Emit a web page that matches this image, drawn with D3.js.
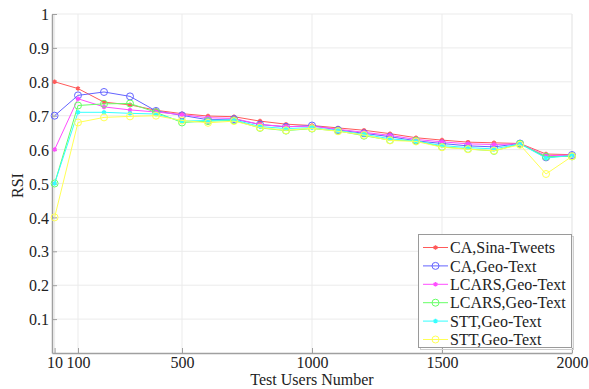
<!DOCTYPE html>
<html>
<head>
  <meta charset="utf-8">
  <script src="https://cdnjs.cloudflare.com/ajax/libs/d3/7.8.5/d3.min.js"></script>
  <style>
    body { margin: 0; background: #fff; }
    text { font-family: "Liberation Serif", "Times New Roman", serif; fill: #222; }
    .grid line { stroke: #ebebeb; stroke-width: 1px; }
    .series { fill: none; stroke-width: 1px; }
  </style>
</head>
<body>
  <svg id="chart" width="589" height="389"></svg>
  <script>
    // test users number
    var users = [10, 100, 200, 300, 400, 500, 600, 700, 800, 900, 1000,
                 1100, 1200, 1300, 1400, 1500, 1600, 1700, 1800, 1900, 2000];

    var caSina    = [0.80, 0.78, 0.74, 0.732, 0.716, 0.706, 0.699, 0.697, 0.684, 0.675, 0.671, 0.664, 0.657, 0.647, 0.635, 0.628, 0.622, 0.620, 0.618, 0.587, 0.585];
    var caGeo     = [0.70, 0.76, 0.77, 0.757, 0.714, 0.701, 0.688, 0.690, 0.674, 0.667, 0.671, 0.658, 0.648, 0.638, 0.626, 0.618, 0.611, 0.608, 0.618, 0.577, 0.584];
    var lcarsMag  = [0.60, 0.75, 0.726, 0.717, 0.711, 0.703, 0.694, 0.692, 0.674, 0.668, 0.669, 0.660, 0.651, 0.642, 0.630, 0.623, 0.617, 0.615, 0.617, 0.582, 0.584];
    var lcarsGrn  = [0.50, 0.73, 0.735, 0.736, 0.710, 0.680, 0.684, 0.686, 0.664, 0.656, 0.662, 0.655, 0.641, 0.628, 0.626, 0.608, 0.602, 0.596, 0.617, 0.579, 0.580];
    var sttCyan   = [0.50, 0.71, 0.71, 0.707, 0.705, 0.684, 0.686, 0.688, 0.668, 0.662, 0.665, 0.656, 0.645, 0.632, 0.625, 0.612, 0.606, 0.602, 0.617, 0.575, 0.583];
    var sttYellow = [0.40, 0.68, 0.695, 0.698, 0.700, 0.686, 0.679, 0.684, 0.665, 0.657, 0.663, 0.654, 0.643, 0.627, 0.624, 0.607, 0.601, 0.597, 0.614, 0.528, 0.580];

    var seriesNames  = ["CA,Sina-Tweets", "CA,Geo-Text", "LCARS,Geo-Text", "LCARS,Geo-Text", "STT,Geo-Text", "STT,Geo-Text"];
    var seriesValues = [caSina, caGeo, lcarsMag, lcarsGrn, sttCyan, sttYellow];
    var seriesColors = ["#ff5a5a", "#6464ff", "#ff4dff", "#66ff66", "#33ffff", "#ffff55"];
    var seriesMarks  = ["star", "circle", "star", "circle", "star", "circle"];

    var xTicks = [10, 100, 500, 1000, 1500, 2000];
    var yTicks = [0.1, 0.2, 0.3, 0.4, 0.5, 0.6, 0.7, 0.8, 0.9, 1];

    var svg = d3.select("#chart");
    var x = d3.scaleLinear().domain([0, 2000]).range([52, 572]);
    var y = d3.scaleLinear().domain([0, 1]).range([353, 14]);

    // grid
    var grid = svg.append("g").attr("class", "grid");
    grid.selectAll("line.gx").data(xTicks).enter().append("line")
      .attr("x1", d => x(d)).attr("x2", d => x(d))
      .attr("y1", y(0)).attr("y2", y(1));
    grid.selectAll("line.gy").data(yTicks).enter().append("line")
      .attr("x1", x(0)).attr("x2", x(2000))
      .attr("y1", d => y(d)).attr("y2", d => y(d));
    grid.append("line").attr("x1", x(2000)).attr("x2", x(2000)).attr("y1", y(0)).attr("y2", y(1));

    // axes (ticks inward)
    var xAxis = svg.append("g").attr("transform", "translate(0," + y(0) + ")")
      .call(d3.axisBottom(x).tickValues(xTicks).tickSizeInner(-5).tickSizeOuter(0).tickPadding(4).tickFormat(d3.format("d")));
    var yAxis = svg.append("g").attr("transform", "translate(" + x(0) + ",0)")
      .call(d3.axisLeft(y).tickValues(yTicks).tickSizeInner(-5).tickSizeOuter(0).tickPadding(3).tickFormat(d => d === 1 ? "1" : d3.format(".1f")(d)));
    [xAxis, yAxis].forEach(function (a) {
      a.select(".domain").attr("stroke", "#a0a0a0").attr("stroke-width", 1.5);
      a.selectAll(".tick line").attr("stroke", "#a0a0a0");
      a.selectAll("text").style("font-size", "16px").attr("fill", "#222");
    });
    yAxis.selectAll("text").attr("dy", "0.35em");

    svg.append("text").attr("x", x(1000)).attr("y", 385)
      .attr("text-anchor", "middle").style("font-size", "16px").text("Test Users Number");
    svg.append("text").attr("transform", "translate(23," + (y(0.5) + 2) + ") rotate(-90)")
      .attr("text-anchor", "middle").style("font-size", "16px").text("RSI");

    var line = d3.line().x((d, i) => x(users[i])).y(d => y(d));

    function drawMark(g, type, cx, cy, color) {
      if (type === "circle") {
        g.append("circle").attr("cx", cx).attr("cy", cy).attr("r", 3.5)
          .attr("fill", "none").attr("stroke", color).attr("stroke-width", 1);
      } else {
        g.append("path").attr("transform", "translate(" + cx + "," + cy + ")")
          .attr("d", d3.symbol(d3.symbolAsterisk, 14)())
          .attr("fill", "none").attr("stroke", color).attr("stroke-width", 1.5);
      }
    }

    seriesValues.forEach(function (vals, s) {
      var g = svg.append("g");
      g.append("path").attr("class", "series").attr("d", line(vals)).attr("stroke", seriesColors[s]);
      vals.forEach(function (v, i) { drawMark(g, seriesMarks[s], x(users[i]), y(v), seriesColors[s]); });
    });

    // legend
    var lg = svg.append("g");
    lg.append("rect").attr("x", 420.5).attr("y", 236.5).attr("width", 153).attr("height", 113)
      .attr("fill", "none").attr("stroke", "#cfcfcf").attr("stroke-width", 1);
    lg.append("rect").attr("x", 418.5).attr("y", 234.5).attr("width", 153).attr("height", 113)
      .attr("fill", "#fff").attr("stroke", "#9a9a9a").attr("stroke-width", 1);
    seriesNames.forEach(function (name, s) {
      var ly = 247.5 + s * 18.4;
      lg.append("line").attr("x1", 423).attr("x2", 448).attr("y1", ly).attr("y2", ly)
        .attr("stroke", seriesColors[s]).attr("stroke-width", 1);
      drawMark(lg, seriesMarks[s], 435.5, ly, seriesColors[s]);
      lg.append("text").attr("x", 450).attr("y", ly).attr("dy", "0.35em")
        .style("font-size", "16px").text(name);
    });
  </script>
</body>
</html>
